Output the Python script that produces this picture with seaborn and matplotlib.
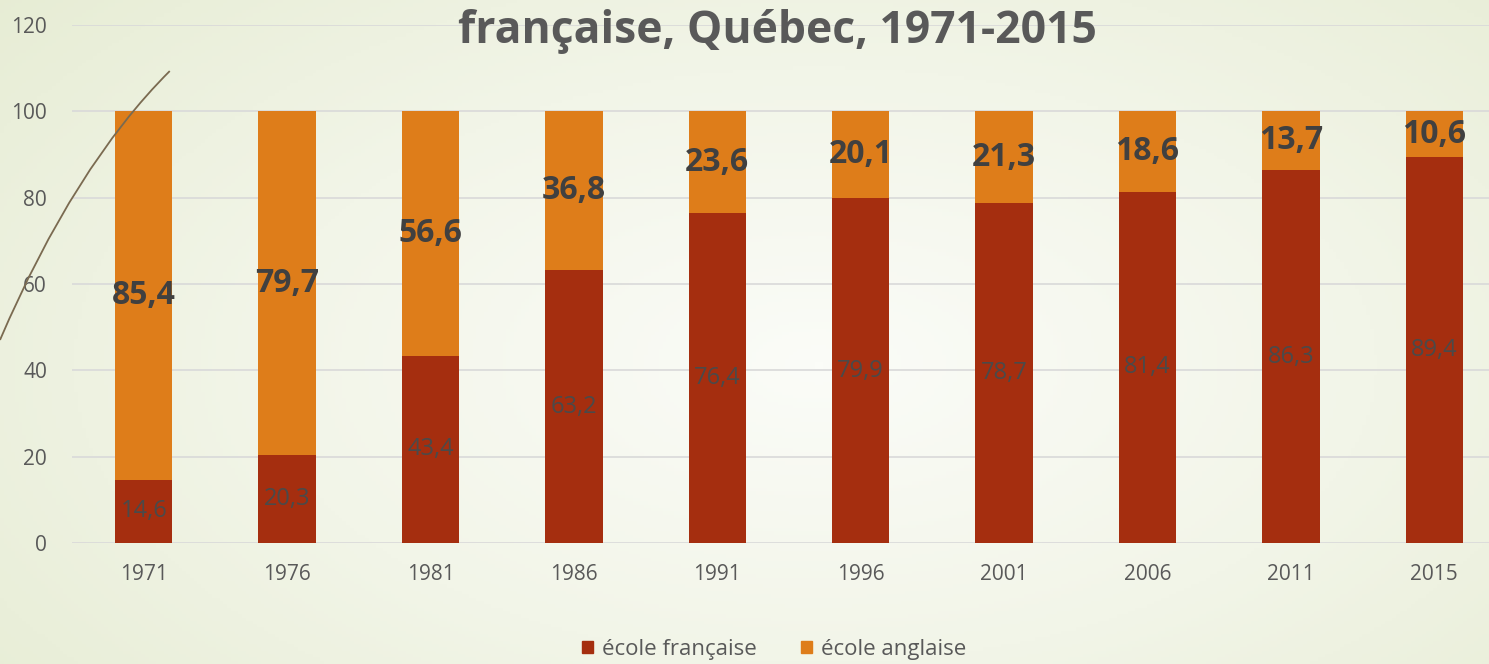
import numpy as np
import pandas as pd
import matplotlib.pyplot as plt
import seaborn as sns
from matplotlib.patches import Patch, PathPatch
from matplotlib.path import Path

annees = ['1971', '1976', '1981', '1986', '1991', '1996', '2001', '2006', '2011', '2015']
ecole_francaise = [14.6, 20.3, 43.4, 63.2, 76.4, 79.9, 78.7, 81.4, 86.3, 89.4]
ecole_anglaise = [85.4, 79.7, 56.6, 36.8, 23.6, 20.1, 21.3, 18.6, 13.7, 10.6]

rouge = '#A52E0F'
orange = '#DE7D1A'
gris = '#595959'

df = pd.DataFrame({'annee': annees, 'fr': ecole_francaise, 'an': ecole_anglaise})
df['total'] = df['fr'] + df['an']

sns.set_style('white')
plt.rcParams['font.family'] = ['Open Sans', 'DejaVu Sans']

fig = plt.figure(figsize=(14.89, 6.64), dpi=100)

# fond degrade facon diapo
bg = fig.add_axes([0, 0, 1, 1], zorder=-10)
yy, xx = np.mgrid[0:1:200j, 0:1:400j]
r = np.sqrt(((xx - 0.55) / 0.75) ** 2 + ((yy - 0.45) / 0.9) ** 2)
bg.imshow(np.clip(r, 0, 1), cmap=sns.blend_palette(['#fbfcf8', '#f2f5e8', '#e6ecd3'], as_cmap=True),
          extent=[0, 1, 0, 1], aspect='auto', origin='lower', vmin=0, vmax=1)
bg.axis('off')
courbe = Path([(0.0, 0.488), (0.05, 0.75), (0.114, 0.893)], [Path.MOVETO, Path.CURVE3, Path.CURVE3])
fig.add_artist(PathPatch(courbe, fc='none', ec='#7a6a50', lw=1.3, transform=fig.transFigure))

ax = fig.add_axes([72 / 1489, 121 / 664, 1434 / 1489, 518 / 664])
ax.patch.set_alpha(0)

sns.barplot(data=df, x='annee', y='total', color=orange, width=0.4, ax=ax, saturation=1,
            linewidth=0, zorder=2)
sns.barplot(data=df, x='annee', y='fr', color=rouge, width=0.4, ax=ax, saturation=1,
            linewidth=0, zorder=3)

for i in range(len(annees)):
    fr = ecole_francaise[i]
    an = ecole_anglaise[i]
    ax.text(i, fr / 2, f'{fr:.1f}'.replace('.', ','), ha='center', va='center',
            fontsize=17, color='#4a4a4a', zorder=5)
    ax.text(i, fr + an / 2, f'{an:.1f}'.replace('.', ','), ha='center', va='center',
            fontsize=23, fontweight='bold', color='#404040', zorder=5)

ax.set_ylim(0, 120)
ax.set_xlim(-0.5, 9.5)
ax.set_yticks(range(0, 121, 20))
ax.yaxis.grid(True, color='#d9d9d9', lw=1.2, zorder=0)
ax.set_axisbelow(True)
for s in ax.spines.values():
    s.set_visible(False)
ax.tick_params(axis='both', length=0, labelsize=15, labelcolor=gris)
ax.tick_params(axis='y', pad=18)
ax.tick_params(axis='x', pad=15)
ax.set_xlabel('')
ax.set_ylabel('')

fig.text(0.522, 0.953, 'française, Québec, 1971-2015', ha='center', va='center',
         fontsize=32, fontweight='bold', color=gris)

handles = [Patch(color=rouge, label='école française'), Patch(color=orange, label='école anglaise')]
fig.legend(handles=handles, loc='center', bbox_to_anchor=(0.52, 0.022), ncol=2, frameon=False,
           fontsize=16, labelcolor=gris, handlelength=0.5, handleheight=0.5, handletextpad=0.4,
           columnspacing=2.0)

fig.savefig('out.png', dpi=100)
